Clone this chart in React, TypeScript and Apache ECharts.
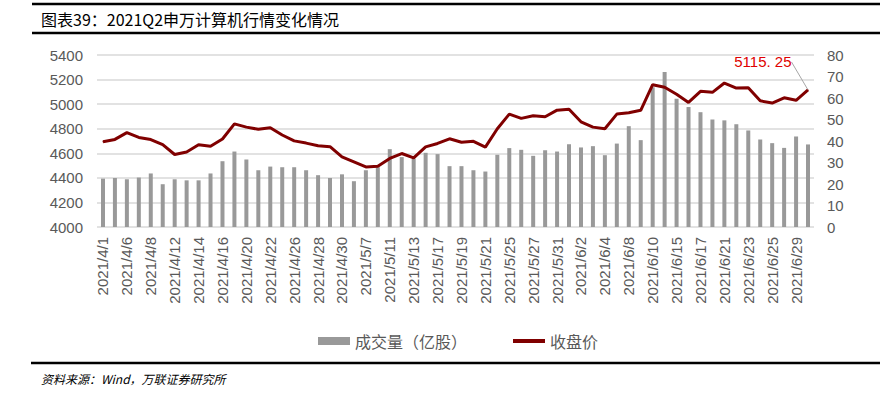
import React, { useEffect, useRef } from "react";
import * as echarts from "echarts";

const dates: string[] = [
  "2021/4/1", "2021/4/2", "2021/4/6", "2021/4/7", "2021/4/8", "2021/4/9", "2021/4/12", "2021/4/13",
  "2021/4/14", "2021/4/15", "2021/4/16", "2021/4/19", "2021/4/20", "2021/4/21", "2021/4/22", "2021/4/23",
  "2021/4/26", "2021/4/27", "2021/4/28", "2021/4/29", "2021/4/30",
  "2021/5/6", "2021/5/7", "2021/5/10", "2021/5/11", "2021/5/12", "2021/5/13", "2021/5/14", "2021/5/17",
  "2021/5/18", "2021/5/19", "2021/5/20", "2021/5/21", "2021/5/24", "2021/5/25", "2021/5/26", "2021/5/27",
  "2021/5/28", "2021/5/31",
  "2021/6/1", "2021/6/2", "2021/6/3", "2021/6/4", "2021/6/7", "2021/6/8", "2021/6/9", "2021/6/10",
  "2021/6/11", "2021/6/15", "2021/6/16", "2021/6/17", "2021/6/18", "2021/6/21", "2021/6/22", "2021/6/23",
  "2021/6/24", "2021/6/25", "2021/6/28", "2021/6/29", "2021/6/30",
];

// 成交量（亿股）
const volume: number[] = [
  22.5, 22.8, 22.2, 23.0, 24.9, 19.9, 22.2, 21.7, 21.7, 24.9, 30.6, 35.1, 31.4, 26.4, 28.1,
  27.8, 27.8, 26.4, 24.1, 22.8, 24.5, 21.3, 26.4, 27.8, 36.2, 32.5, 31.8, 34.5, 33.9, 28.3,
  28.3, 26.4, 25.8, 33.6, 36.7, 35.9, 33.1, 35.7, 35.1, 38.5, 37.0, 37.6, 33.4, 38.8, 46.9,
  40.4, 65.0, 72.1, 59.7, 55.8, 53.4, 50.0, 49.6, 47.8, 44.9, 40.7, 39.0, 36.8, 42.1, 38.4,
];

// 收盘价
const close: number[] = [
  4694, 4713, 4768, 4729, 4712, 4670, 4590, 4611, 4669, 4657, 4716, 4839, 4813, 4795, 4808,
  4749, 4701, 4683, 4661, 4654, 4571, 4530, 4489, 4495, 4558, 4598, 4563, 4652, 4680, 4718,
  4690, 4697, 4650, 4800, 4919, 4884, 4906, 4897, 4951, 4958, 4856, 4813, 4800, 4919, 4930,
  4950, 5158, 5137, 5080, 5014, 5104, 5096, 5172, 5131, 5133, 5027, 5009, 5052, 5031, 5115.25,
];

const leftTicks = { min: 4000, max: 5400, interval: 200 };
const rightTicks = { min: 0, max: 80, interval: 10 };

const titleText = "图表39：2021Q2申万计算机行情变化情况";
const sourceText = "资料来源：Wind，万联证券研究所";
const lastLabel = "5115. 25";

export default function App() {
  const ref = useRef<HTMLDivElement>(null);

  useEffect(() => {
    if (!ref.current) return;
    const chart = echarts.init(ref.current, undefined, { renderer: "svg" });
    const lastIdx = close.length - 1;
    const closeData = close.map((v, i) =>
      i === lastIdx
        ? {
            value: v,
            label: {
              show: true,
              position: "left",
              distance: 4,
              formatter: lastLabel,
              color: "#E00000",
              fontSize: 15,
              fontFamily: "Liberation Sans, Arial, sans-serif",
            },
            labelLine: { show: true, lineStyle: { color: "#A6A6A6", width: 1 } },
          }
        : v
    );
    chart.setOption({
      animation: false,
      backgroundColor: "#ffffff",
      title: {
        text: titleText,
        left: 41,
        top: 11,
        padding: 0,
        textStyle: {
          fontSize: 16,
          fontWeight: "normal",
          color: "#000000",
          fontFamily: "Noto Sans CJK SC, sans-serif",
        },
      },
      legend: {
        left: 313,
        top: 328,
        itemGap: 46,
        itemWidth: 32,
        itemHeight: 8,
        textStyle: {
          fontSize: 16,
          color: "#595959",
          fontFamily: "Noto Sans CJK SC, sans-serif",
        },
        data: [
          { name: "成交量（亿股）", icon: "rect" },
          { name: "收盘价", icon: "path://M0,0 L32,0 L32,4 L0,4 Z" },
        ],
      },
      grid: { left: 97, right: 81, top: 55, height: 172, containLabel: false },
      xAxis: {
        type: "category",
        data: dates,
        boundaryGap: true,
        axisLine: { show: false },
        axisTick: { show: false },
        axisLabel: {
          interval: 1,
          rotate: 90,
          margin: 10,
          fontSize: 15,
          color: "#595959",
          fontFamily: "Liberation Sans, Arial, sans-serif",
        },
      },
      yAxis: [
        {
          type: "value",
          min: leftTicks.min,
          max: leftTicks.max,
          interval: leftTicks.interval,
          axisLine: { show: false },
          axisTick: { show: false },
          axisLabel: {
            margin: 14,
            fontSize: 15,
            color: "#595959",
            fontFamily: "Liberation Sans, Arial, sans-serif",
            formatter: (v: number) => String(v),
          },
          splitLine: { lineStyle: { color: "#D9D9D9", width: 1.5 } },
        },
        {
          type: "value",
          min: rightTicks.min,
          max: rightTicks.max,
          interval: rightTicks.interval,
          axisLine: { show: false },
          axisTick: { show: false },
          axisLabel: {
            margin: 13,
            fontSize: 15,
            color: "#595959",
            fontFamily: "Liberation Sans, Arial, sans-serif",
            formatter: (v: number) => String(v),
          },
          splitLine: { show: false },
        },
      ],
      series: [
        {
          name: "成交量（亿股）",
          type: "bar",
          yAxisIndex: 1,
          data: volume,
          barWidth: 4,
          itemStyle: { color: "#999999" },
        },
        {
          name: "收盘价",
          type: "line",
          yAxisIndex: 0,
          data: closeData,
          symbol: "circle",
          symbolSize: 1,
          showSymbol: true,
          showAllSymbol: true,
          lineStyle: { color: "#800000", width: 3 },
          itemStyle: { color: "#800000" },
          labelLayout: (p: any) =>
            p.dataIndex === lastIdx ? { dx: -12, dy: -28 } : {},
        },
      ],
      graphic: [
        { type: "line", shape: { x1: 32, y1: 4, x2: 880, y2: 4 }, style: { stroke: "#000", lineWidth: 2.5 } },
        { type: "line", shape: { x1: 32, y1: 33, x2: 880, y2: 33 }, style: { stroke: "#000", lineWidth: 2.5 } },
        { type: "line", shape: { x1: 31, y1: 363, x2: 880, y2: 363 }, style: { stroke: "#000", lineWidth: 2.5 } },
        {
          type: "text",
          left: 41,
          top: 372,
          style: {
            text: sourceText,
            fontSize: 12,
            fontStyle: "italic",
            fill: "#000",
            fontFamily: "Noto Sans CJK SC, sans-serif",
          },
        },
      ],
    });
    return () => chart.dispose();
  }, []);

  return (
    <div
      ref={ref}
      style={{ position: "fixed", left: 0, top: 0, width: 895, height: 398 }}
    />
  );
}
